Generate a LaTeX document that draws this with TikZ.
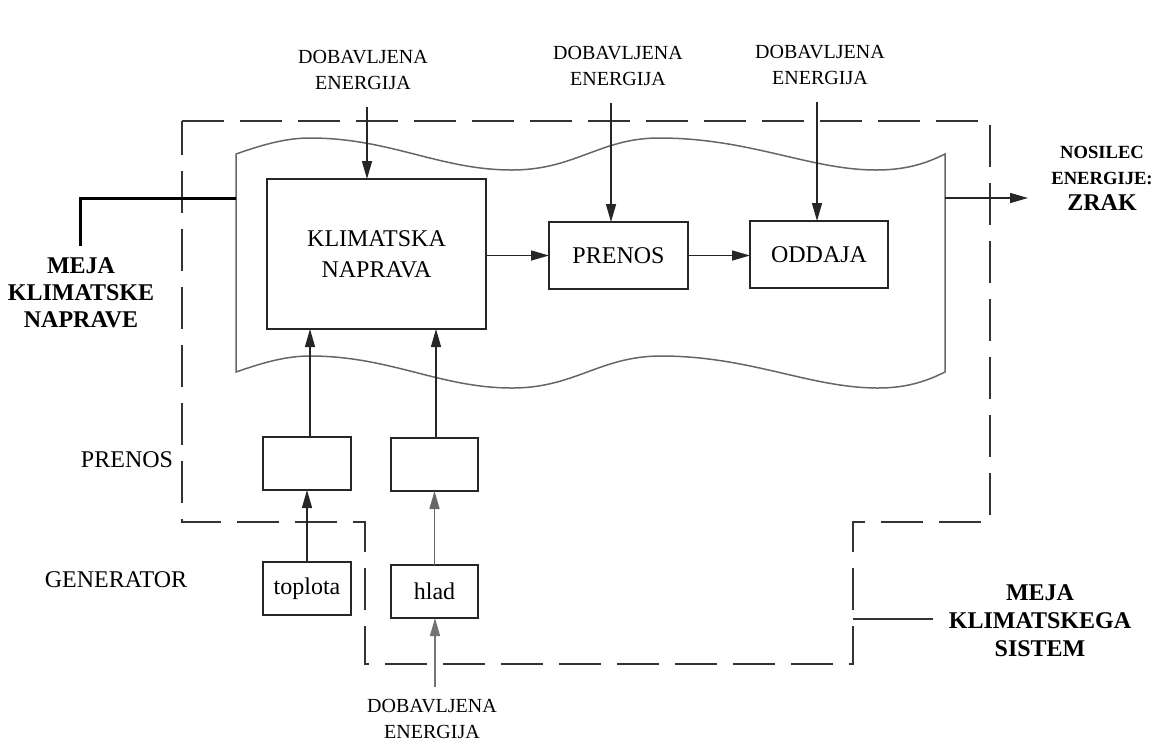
\documentclass[tikz,border=0pt]{standalone}
\usepackage{fontspec}
\setmainfont{Liberation Serif}
\usetikzlibrary{arrows.meta}
\begin{document}
\begin{tikzpicture}[x=0.5pt,y=-0.5pt,
  ln/.style={line width=0.75pt,draw=black!85},
  arr/.style={ln,-{Triangle[length=9pt,width=5pt]}},
  blk/.style={ln,rectangle,inner sep=0pt,outer sep=0pt,align=center,font=\fontsize{12}{15.5}\selectfont},
  lbl/.style={inner sep=0pt,align=center,font=\fontsize{10}{13}\selectfont},
  side/.style={inner sep=0pt,align=center,font=\fontsize{12}{14}\selectfont},
  boldlbl/.style={inner sep=0pt,align=center,font=\bfseries\fontsize{12}{13.5}\selectfont},
  wave/.style={line width=0.75pt,draw=black!60},
  bound/.style={line width=0.75pt,draw=black!80,dash pattern=on 21pt off 8pt}
]
\useasboundingbox (0,0) rectangle (1154,740);

% climate system boundary (dashed)
\draw[bound] (182,121) -- (990,121) -- (990,522) -- (853,522) -- (853,664) -- (365,664) -- (365,522) -- (182,522) -- cycle;

% wavy device boundary
\draw[wave] (236,154) .. controls (262,145) and (285,138) .. (310,138)
  .. controls (390,138) and (440,170) .. (512,170)
  .. controls (575,170) and (600,138) .. (659,138)
  .. controls (750,138) and (810,170) .. (876,170)
  .. controls (905,170) and (925,164) .. (945,154)
  -- (945,372)
  .. controls (925,382) and (905,388) .. (878,388)
  .. controls (810,388) and (750,356) .. (661,356)
  .. controls (600,356) and (575,388) .. (512,388)
  .. controls (440,388) and (390,356) .. (310,356)
  .. controls (285,356) and (262,363) .. (236,372) -- cycle;

% boxes
\node[blk,minimum width=109.5pt,minimum height=75pt] (klim) at (376.5,254) {KLIMATSKA\\NAPRAVA};
\node[blk,minimum width=69.5pt,minimum height=33.5pt] (pren) at (618.5,255.5) {PRENOS};
\node[blk,minimum width=69pt,minimum height=33.5pt] (odd) at (819,254.5) {ODDAJA};
\node[blk,minimum width=44pt,minimum height=26.5pt] (tr1) at (307,463.5) {};
\node[blk,minimum width=43.5pt,minimum height=26.5pt] (tr2) at (434.5,464.5) {};
\node[blk,minimum width=44pt,minimum height=26.5pt] (topl) at (307,588.5) {toplota};
\node[blk,minimum width=43.5pt,minimum height=26.5pt] (hlad) at (434.5,591.5) {hlad};

% labels
\node[lbl] (dob1) at (363,70) {DOBAVLJENA\\ENERGIJA};
\node[lbl] (dob2) at (618,66) {DOBAVLJENA\\ENERGIJA};
\node[lbl] (dob3) at (820,65) {DOBAVLJENA\\ENERGIJA};
\node[lbl] (dob4) at (432,719) {DOBAVLJENA\\ENERGIJA};
\node[side] (prenl) at (127,460) {PRENOS};
\node[side] (gen) at (116,580) {GENERATOR};
\node[boldlbl] (mejan) at (81,293) {MEJA\\KLIMATSKE\\NAPRAVE};
\node[boldlbl,font=\bfseries\fontsize{12}{14}\selectfont] (mejas) at (1040,621) {MEJA\\KLIMATSKEGA\\SISTEM};
\node[inner sep=0pt,align=center,font=\bfseries\fontsize{9.3}{13}\selectfont] (nos) at (1102,178) {NOSILEC\\ENERGIJE:\\\fontsize{12}{16}\selectfont ZRAK};

% coordinates for free ends
\coordinate (d1s) at (367,107);
\coordinate (d2s) at (611,103);
\coordinate (d3s) at (817,102);
\coordinate (d4s) at (435,687);
\coordinate (wl) at (236,198);
\coordinate (mc) at (80,198);
\coordinate (me) at (80,246);
\coordinate (wr) at (945,198);
\coordinate (out) at (1028,198);
\coordinate (sysb) at (853,619);
\coordinate (syse) at (933,619);

% supplied energy arrows
\draw[arr] (d1s) -- (d1s |- klim.north);
\draw[arr] (d2s) -- (d2s |- pren.north);
\draw[arr] (d3s) -- (d3s |- odd.north);
\draw[arr,draw=black!55] (d4s) -- (d4s |- hlad.south);

% flow arrows
\draw[arr] (klim.east |- pren.west) -- (pren.west);
\draw[arr] (pren.east) -- (odd.west |- pren.east);
\draw[arr] (topl.north) -- (tr1.south);
\draw[arr,draw=black!60] (hlad.north) -- (tr2.south);
\draw[arr] ([xshift=1.5pt]tr1.north) -- ([xshift=1.5pt]tr1.north |- klim.south);
\draw[arr] ([xshift=0.75pt]tr2.north) -- ([xshift=0.75pt]tr2.north |- klim.south);

% boundary markers
\draw[line width=1.5pt] (wl) -- (mc) -- (me);
\draw[arr] (wr) -- (out);
\draw[line width=1pt,draw=black!80] (sysb) -- (syse);
\end{tikzpicture}
\end{document}
